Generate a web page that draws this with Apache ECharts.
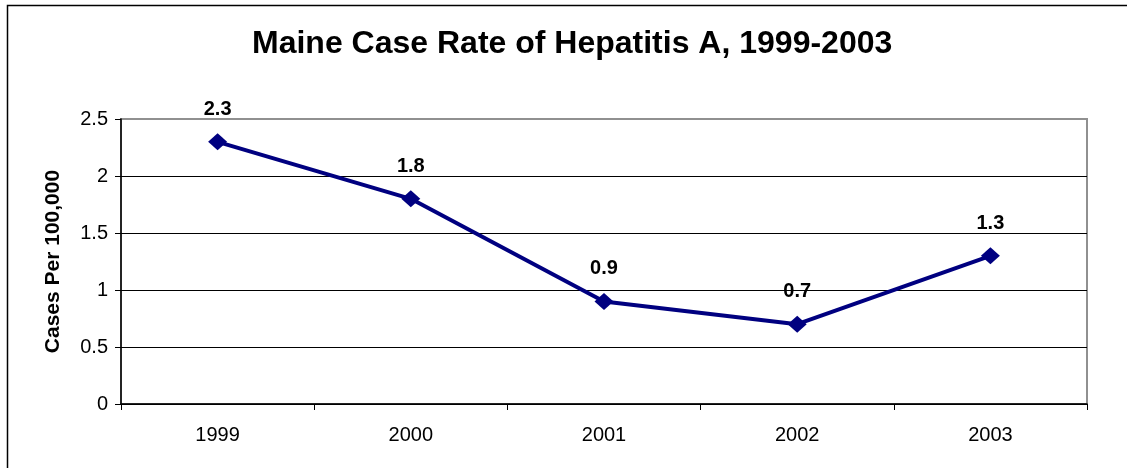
<!DOCTYPE html>
<html><head><meta charset="utf-8">
<script src="https://cdn.jsdelivr.net/npm/echarts@6/dist/echarts.min.js"></script>
<style>html,body{margin:0;padding:0;background:#fff}#c{width:1127px;height:468px}</style>
</head><body><div id="c"></div>
<script>
const years = ['1999','2000','2001','2002','2003'];
const rates = [2.3, 1.8, 0.9, 0.7, 1.3];
const yTicks = {min: 0, max: 2.5, interval: 0.5};

const chart = echarts.init(document.getElementById('c'), null, {renderer: 'canvas'});
const font = 'Arial, "Liberation Sans", sans-serif';
chart.setOption({
  animation: false,
  backgroundColor: '#fff',
  graphic: [{type: 'rect', shape: {x: 7.5, y: 5.5, width: 1140, height: 480}, style: {fill: 'none', stroke: '#000', lineWidth: 1.5}, z: 100}],
  title: {text: 'Maine Case Rate of Hepatitis A, 1999-2003', left: 247, top: 23,
    textStyle: {fontFamily: font, fontSize: 32, fontWeight: 'bold', color: '#000'}},
  grid: {left: 121, right: 40, top: 119, bottom: 64, show: true, borderColor: '#909090', borderWidth: 2, backgroundColor: '#fff'},
  xAxis: {type: 'category', data: years, boundaryGap: true,
    axisLine: {lineStyle: {color: '#000', width: 1.5}},
    axisTick: {show: true, interval: 0, length: 6, lineStyle: {color: '#000'}},
    axisLabel: {fontFamily: font, fontSize: 20, color: '#000', margin: 21}},
  yAxis: {type: 'value', min: yTicks.min, max: yTicks.max, interval: yTicks.interval,
    name: 'Cases Per 100,000', nameLocation: 'middle', nameGap: 57,
    nameTextStyle: {fontFamily: font, fontSize: 21, fontWeight: 'bold', color: '#000'},
    axisLine: {show: true, lineStyle: {color: '#000', width: 1.5}},
    axisTick: {show: true, length: 6, lineStyle: {color: '#000'}},
    axisLabel: {fontFamily: font, fontSize: 20, color: '#000', margin: 13},
    splitLine: {show: true, showMaxLine: false, lineStyle: {color: '#000', width: 1}}},
  series: [{type: 'line', data: rates, symbol: 'diamond', symbolSize: [19, 17],
    lineStyle: {color: '#000080', width: 4}, itemStyle: {color: '#000080'},
    label: {show: true, position: 'top', distance: 14, fontFamily: font, fontSize: 20, fontWeight: 'bold', color: '#000'}}]
});
</script></body></html>
